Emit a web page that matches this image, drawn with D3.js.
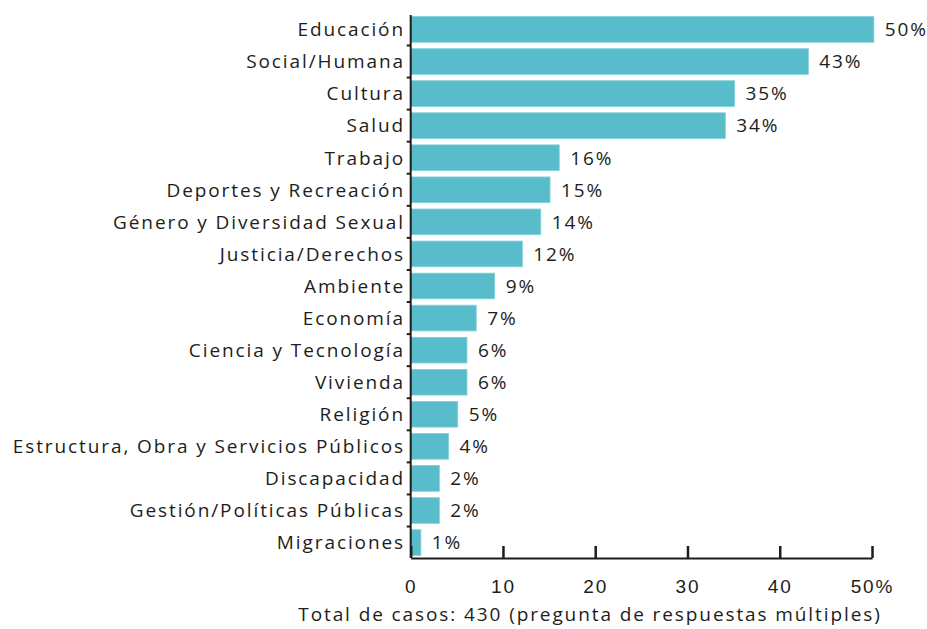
<!DOCTYPE html>
<html lang="es">
<head>
  <meta charset="UTF-8">
  <title>Temas - porcentaje de casos</title>
  <script src="https://d3js.org/d3.v7.min.js"></script>
  <style>
    body {
      margin: 0;
      background: #fff;
      font-family: "Open Sans", sans-serif;
    }
    text {
      letter-spacing: 1.9px;
    }
    .cat text, .val {
      font-size: 19px;
      fill: #1d1d1b;
    }
    .xaxis text {
      font-size: 19px;
      fill: #1d1d1b;
    }
  </style>
</head>
<body>
<div id="chart"></div>

<script>
  // categorias, de arriba abajo
  const categories = [
    "Educación", "Social/Humana", "Cultura", "Salud", "Trabajo",
    "Deportes y Recreación", "Género y Diversidad Sexual", "Justicia/Derechos",
    "Ambiente", "Economía", "Ciencia y Tecnología", "Vivienda", "Religión",
    "Estructura, Obra y Servicios Públicos", "Discapacidad",
    "Gestión/Políticas Públicas", "Migraciones"
  ];
  // largo de las barras
  const values = [50.2, 43.1, 35.1, 34.1, 16.1, 15.1, 14.1, 12.1, 9.1, 7.1, 6.1, 6.1, 5.1, 4.1, 3.1, 3.1, 1.1];
  // etiquetas impresas
  const valueLabels = ["50%", "43%", "35%", "34%", "16%", "15%", "14%", "12%", "9%", "7%", "6%", "6%", "5%", "4%", "2%", "2%", "1%"];
  const xTicks = [0, 10, 20, 30, 40, 50];
  const xTickLabels = ["0", "10", "20", "30", "40", "50%"];
  const footnote = "Total de casos: 430 (pregunta de respuestas múltiples)";

  const width = 927;
  const height = 629;
  const barColor = "#58bccb";

  const svg = d3.select("#chart").append("svg")
    .attr("width", width)
    .attr("height", height);

  const x = d3.scaleLinear()
    .domain([0, 50])
    .range([410.7, 872]);

  const y = d3.scaleBand()
    .domain(categories)
    .range([15, 557])
    .paddingInner(0.2)
    .paddingOuter(0.05);

  // barras
  svg.append("g")
    .selectAll("rect")
    .data(categories)
    .join("rect")
      .attr("x", x(0))
      .attr("y", d => y(d))
      .attr("width", (d, i) => x(values[i]) - x(0))
      .attr("height", y.bandwidth())
      .attr("fill", barColor)
      .attr("stroke", "#7fcfd9")
      .attr("stroke-width", 0.8);

  // valores
  svg.append("g")
    .selectAll("text")
    .data(categories)
    .join("text")
      .attr("class", "val")
      .attr("x", (d, i) => x(values[i]) + 11)
      .attr("y", d => y(d) + y.bandwidth() / 2)
      .attr("dy", "0.36em")
      .text((d, i) => valueLabels[i]);

  // eje y
  const yAxis = svg.append("g").attr("class", "cat");
  yAxis.append("line")
    .attr("x1", x(0)).attr("x2", x(0))
    .attr("y1", 15).attr("y2", 558)
    .attr("stroke", "#1d1d1b")
    .attr("stroke-width", 2);
  yAxis.selectAll("line.tk")
    .data(categories.slice(1))
    .join("line")
      .attr("class", "tk")
      .attr("x1", x(0) - 4).attr("x2", x(0))
      .attr("y1", d => y(d) - y.step() * y.paddingInner() / 2)
      .attr("y2", d => y(d) - y.step() * y.paddingInner() / 2)
      .attr("stroke", "#1d1d1b")
      .attr("stroke-width", 2);
  yAxis.selectAll("text")
    .data(categories)
    .join("text")
      .attr("x", 405)
      .attr("y", d => y(d) + y.bandwidth() / 2)
      .attr("dy", "0.36em")
      .attr("text-anchor", "end")
      .text(d => d);

  // eje x
  const xAxis = svg.append("g")
    .attr("class", "xaxis")
    .attr("transform", "translate(0,558)")
    .call(d3.axisBottom(x)
      .tickValues(xTicks)
      .tickSizeInner(-12)
      .tickSizeOuter(0)
      .tickPadding(22)
      .tickFormat((d, i) => xTickLabels[i]));
  xAxis.select(".domain")
    .attr("stroke", "#1d1d1b")
    .attr("stroke-width", 2);
  xAxis.selectAll(".tick line")
    .attr("stroke", "#1d1d1b")
    .attr("stroke-width", 2.5);
  xAxis.selectAll(".tick text")
    .attr("font-family", null)
    .attr("font-size", null);

  svg.append("text")
    .attr("x", 590)
    .attr("y", 621)
    .attr("text-anchor", "middle")
    .attr("font-size", 19)
    .attr("fill", "#1d1d1b")
    .text(footnote);
</script>
</body>
</html>
